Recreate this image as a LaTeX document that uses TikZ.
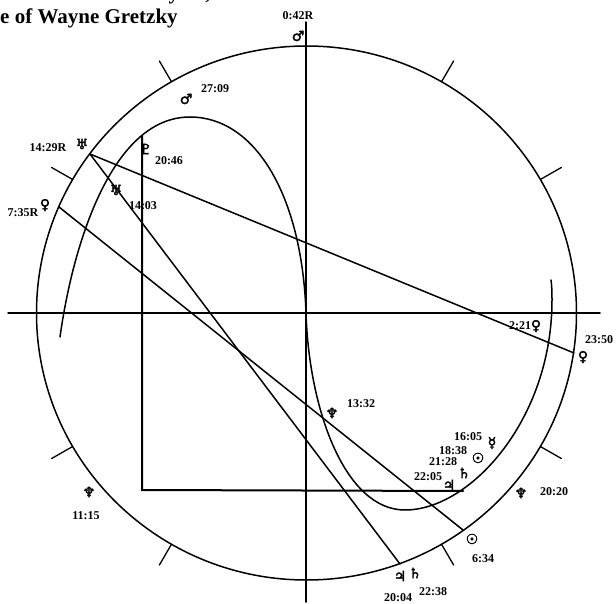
\documentclass[tikz,border=0pt]{standalone}
\usepackage{fontspec}
\setmainfont{Liberation Serif}
\newfontfamily\glyphfont[FakeBold=2.5]{DejaVu Sans}
\tikzset{
	stamp/.style={font=\fontsize{12}{13}\selectfont\bfseries, inner sep=0pt},
	planet/.style={font=\fontsize{14}{15}\glyphfont, inner sep=0pt},
	chartline/.style={black, line width=1.5pt},
	tickline/.style={black, line width=1.3pt},
	titleline/.style={inner sep=0pt, font=\fontsize{21}{23}\selectfont\bfseries}
}
\begin{document}
\begin{tikzpicture}[x=1pt, y=-1pt, line cap=round]
	\useasboundingbox (0,0) rectangle (616,604);
	
	\def\xC{306.5}
	\def\yC{313}
	\def\rX{270}
	\def\rY{267}
	\def\rTick{1.09}
	
	% Heading, cut by the page edge
	\begin{scope}
		\clip (0,0) rectangle (616,604);
		\node[titleline, anchor=base east] (dateline) at (258,0) {January 26, 1961};
		\node[titleline, anchor=base west] (heading) at (0,24) {e of Wayne Gretzky};
	\end{scope}
	
	% Outer wheel and axes
	\draw[chartline] (\xC,\yC) ellipse [x radius=\rX, y radius=\rY];
	\foreach \aa in {30,60,120,150,210,240,300,330}{
		\draw[tickline] ({\xC+\rX*cos(\aa)},{\yC-\rY*sin(\aa)}) -- ({\xC+\rTick*\rX*cos(\aa)},{\yC-\rTick*\rY*sin(\aa)});
	}
	\coordinate (axisW) at (8,313);
	\coordinate (axisE) at (600,313);
	\coordinate (axisN) at (306,22);
	\coordinate (axisS) at (306,602);
	\draw[chartline] (axisW) -- (axisE);
	\draw[chartline] (axisN) -- (axisS);
	
	% Inner curve
	\draw[chartline] (60,337) .. controls (72,250) and (110,117) .. (190,117)
		.. controls (255,117) and (302,195) .. (306,313)
		.. controls (309,410) and (345,510) .. (405,510)
		.. controls (470,510) and (552,420) .. (552,300)
		.. controls (552,293) and (552,287) .. (551,280);
	
	% Aspect lines
	\coordinate (uraOut) at (90,154);
	\coordinate (venOut) at (574,353);
	\coordinate (satOut) at (400,564);
	\coordinate (venIn) at (59,207);
	\coordinate (sunOut) at (463,530);
	\coordinate (pluTop) at (142,136);
	\coordinate (pluLow) at (142,490);
	\coordinate (jupIn) at (463,491);
	\draw[chartline] (uraOut) -- (venOut);
	\draw[chartline] (uraOut) -- (satOut);
	\draw[chartline] (venIn) -- (sunOut);
	\draw[black, line width=2pt] (pluTop) -- (pluLow) -- (jupIn);
	
	% Planets
	\node[planet] (marsTop) at (298,36) {♂};
	\node[planet] (marsIn) at (186,99) {♂};
	\node[planet] (uraOutS) at (82,144) {♅};
	\node[planet] (uraInS) at (116,190) {♅};
	\node[planet] (pluS) at (146,149) {♇};
	\node[planet] (venInS) at (45,205) {♀};
	\node[planet] (venA) at (536,326) {♀};
	\node[planet] (venB) at (583,357) {♀};
	\node[planet] (nepIn) at (332,413) {♆};
	\node[planet] (merS) at (492,443) {☿};
	\node[planet] (sunIn) at (478,458) {☉};
	\node[planet] (satIn) at (464,473) {♄};
	\node[planet] (jupInS) at (449,485) {♃};
	\node[planet] (nepOut) at (521,493) {♆};
	\node[planet] (sunOutS) at (472,539) {☉};
	\node[planet] (jupOut) at (400,576) {♃};
	\node[planet] (satOutS) at (415,573) {♄};
	\node[planet] (nepLow) at (89,492) {♆};
	
	% Degree stamps
	\node[stamp] (tMarsTop) at (298,16) {0:42R};
	\node[stamp] (tMarsIn) at (215,89) {27:09};
	\node[stamp] (tUraOut) at (48,148) {14:29R};
	\node[stamp] (tUraIn) at (143,206) {14:03};
	\node[stamp] (tPlu) at (169,161) {20:46};
	\node[stamp] (tVenIn) at (23,213) {7:35R};
	\node[stamp] (tVenA) at (520,326) {2:21};
	\node[stamp] (tVenB) at (599,340) {23:50};
	\node[stamp] (tNepIn) at (361,404) {13:32};
	\node[stamp] (tMer) at (468,437) {16:05};
	\node[stamp] (tSunIn) at (453,451) {18:38};
	\node[stamp] (tSatIn) at (443,462) {21:28};
	\node[stamp] (tJupIn) at (428,477) {22:05};
	\node[stamp] (tNepOut) at (554,492) {20:20};
	\node[stamp] (tSunOut) at (483,559) {6:34};
	\node[stamp] (tSatOut) at (433,592) {22:38};
	\node[stamp] (tJupOut) at (398,598) {20:04};
	\node[stamp] (tNepLow) at (86,516) {11:15};
	
\end{tikzpicture}
\end{document}
